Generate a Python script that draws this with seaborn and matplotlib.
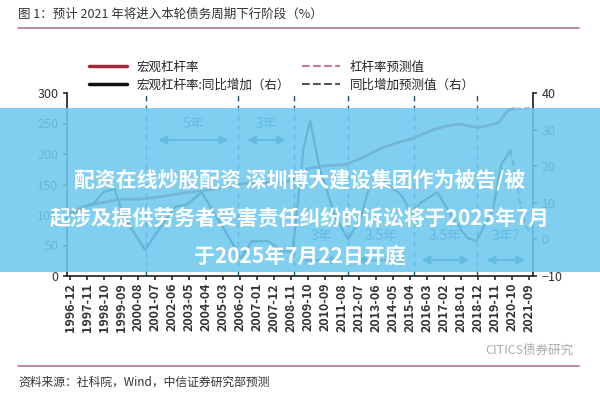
import numpy as np
import pandas as pd
import seaborn as sns
import matplotlib.pyplot as plt
from matplotlib.lines import Line2D
from matplotlib.patches import Rectangle

sns.set_theme(style="white")
plt.rcParams['font.family'] = ['Noto Sans CJK SC', 'DejaVu Sans']

# leverage ratio (left axis, %)
lev_t = [1996.92, 1997.6, 1998.5, 1999.7, 2000.6, 2001.8, 2003.0, 2004.5, 2005.9, 2007.0,
         2008.3, 2008.9, 2009.7, 2010.5, 2011.8, 2012.8, 2013.8, 2014.6, 2015.4, 2016.5,
         2017.2, 2017.9, 2018.9, 2020.0, 2020.5, 2020.8]
lev_v = [103, 114, 120, 126, 126, 130, 136, 142, 150, 154, 152, 158, 176, 180, 183, 196, 211, 219,
         226, 240, 246, 249, 243, 251, 271, 274]
levf_t = [2020.8, 2021.3, 2021.67]
levf_v = [274, 274, 275]

# yoy change (right axis, pct pt)
yoy_t = [1996.92, 1997.8, 1998.2, 1998.7, 1999.3, 1999.6, 2000.2, 2000.95, 2001.9, 2002.6,
         2003.2, 2004.0, 2004.8, 2005.7, 2006.1, 2006.7, 2007.6, 2008.4, 2008.9, 2009.5,
         2009.85, 2010.35, 2011.2, 2011.9, 2012.6, 2013.0, 2013.9, 2014.8, 2015.3, 2015.8,
         2016.7, 2017.5, 2018.3, 2018.8, 2019.3, 2019.7, 2020.15, 2020.65]
yoy_v = [6.7, 9, 10, 12.9, 13.8, 9, 3, -2.9, 4.3, 9, 9.5, 12.9, 6.2, -1.4, -5.2, -0.5, -0.5,
         -3.3, -3.3, 25.2, 32.4, 19.5, 6.2, 0, 6.2, 13.8, 15.7, 11.9, 7.1, 10, 12.9, 6.2, 0.5,
         -0.5, 4.3, 8.1, 20.5, 24.3]
yoyf_t = [2020.65, 2020.9, 2021.2, 2021.45, 2021.67]
yoyf_v = [24.3, 18, 9, 4, 2]

cycle_lines = [2001.0, 2005.96, 2009.0, 2011.9, 2015.45, 2018.85]
top_arrows = [(2001.5, 2005.6, "5年"), (2006.3, 2008.7, "3年")]
bottom_arrows = [(2009.3, 2011.6, "3年"), (2012.2, 2015.2, "3.5年"),
                 (2015.7, 2018.6, "3.5年"), (2019.2, 2021.6, "3年?")]

n_ticks = 28
tick_labels = []
for i in range(n_ticks):
    k = 1996 * 12 + 11 + 11 * i
    tick_labels.append(f"{k // 12}-{k % 12 + 1:02d}")
tick_pos = [1996.92 + 11 * i / 12 for i in range(n_ticks)]

RED = "#a3283c"
ANN = "#1f5573"

fig = plt.figure(figsize=(6, 4), dpi=100)
ax = fig.add_axes([0.112, 0.31, 0.776, 0.4575])
ax2 = ax.twinx()

sns.lineplot(x=lev_t, y=lev_v, ax=ax, color=RED, lw=2)
sns.lineplot(x=levf_t, y=levf_v, ax=ax, color="#c77c8c", lw=1.5, linestyle="--")
sns.lineplot(x=yoy_t, y=yoy_v, ax=ax2, color="#222222", lw=1.6)
sns.lineplot(x=yoyf_t, y=yoyf_v, ax=ax2, color="#555555", lw=1.3, linestyle="--")

ax.set_ylim(0, 300)
ax2.set_ylim(-10, 40)
ax.set_xlim(1996.75, 2021.85)
ax.set_yticks([0, 50, 100, 150, 200, 250, 300])
ax2.set_yticks([-10, 0, 10, 20, 30, 40])
ax.set_xticks(tick_pos)
ax.set_xticklabels(tick_labels, rotation=90, fontsize=8.5, fontweight="bold", color="#333333")
for a in (ax, ax2):
    a.tick_params(labelsize=9, colors="#333333", length=3)
    for s in a.spines.values():
        s.set_visible(False)
ax.spines['left'].set_visible(True)
ax2.spines['right'].set_visible(True)
ax.spines['bottom'].set_visible(True)
ax.tick_params(axis='x', length=3, direction='out', bottom=True, pad=2)
ax.tick_params(axis='y', left=True)
ax2.tick_params(axis='y', right=True)
ax.grid(False)
ax2.grid(False)

for xv in cycle_lines:
    ax.axvline(xv, ymax=1, color=ANN, lw=1, linestyle=(0, (4, 3)))
for a0, a1, lab in top_arrows:
    ax.annotate("", xy=(a0, 223), xytext=(a1, 223),
                arrowprops=dict(arrowstyle="<|-|>", color=ANN, lw=1.5))
    ax.text((a0 + a1) / 2, 249, lab, ha="center", va="center", color=ANN, fontsize=10)
for a0, a1, lab in bottom_arrows:
    ax.annotate("", xy=(a0, 26), xytext=(a1, 26),
                arrowprops=dict(arrowstyle="<|-|>", color=ANN, lw=1.5))
    ax.text((a0 + a1) / 2, 66, lab, ha="center", va="center", color=ANN, fontsize=10)

handles = [Line2D([], [], color=RED, lw=2.5), Line2D([], [], color="#111111", lw=2.5),
           Line2D([], [], color="#c77c8c", lw=1.5, linestyle="--"),
           Line2D([], [], color="#555555", lw=1.5, linestyle="--")]
labels = ["宏观杠杆率", "宏观杠杆率:同比增加（右）", "杠杆率预测值", "同比增加预测值（右）"]
fig.legend(handles, labels, ncol=2, loc="center", bbox_to_anchor=(0.47, 0.81),
           frameon=False, fontsize=9, handlelength=3, columnspacing=1.0, labelspacing=0.4)

fig.text(0.03, 0.955, "图 1：预计 2021 年将进入本轮债务周期下行阶段（%）", fontsize=9, color="#333333")
fig.add_artist(Line2D([0.03, 0.965], [0.93, 0.93], color="#b07a80", lw=1.2))
fig.add_artist(Line2D([0.03, 0.965], [0.085, 0.085], color="#b07a80", lw=1.2))
fig.text(0.03, 0.035, "资料来源：社科院，Wind，中信证券研究部预测", fontsize=8.5, color="#333333")
fig.text(0.955, 0.115, "CITICS债券研究", fontsize=9, color="#aaaaaa", ha="right")

# overlay banner
fig.add_artist(Rectangle((0, 0.32), 1, 0.41, transform=fig.transFigure,
                         facecolor="#6ec9ef", alpha=0.88, edgecolor="none"))
for yy, txt in [(0.55, "配资在线炒股配资 深圳博大建设集团作为被告/被"),
                (0.455, "起涉及提供劳务者受害责任纠纷的诉讼将于2025年7月"),
                (0.36, "于2025年7月22日开庭")]:
    fig.text(0.5, yy, txt, ha="center", va="center", color="white",
             fontsize=15, fontweight="bold")

fig.savefig("out.png", dpi=100)
